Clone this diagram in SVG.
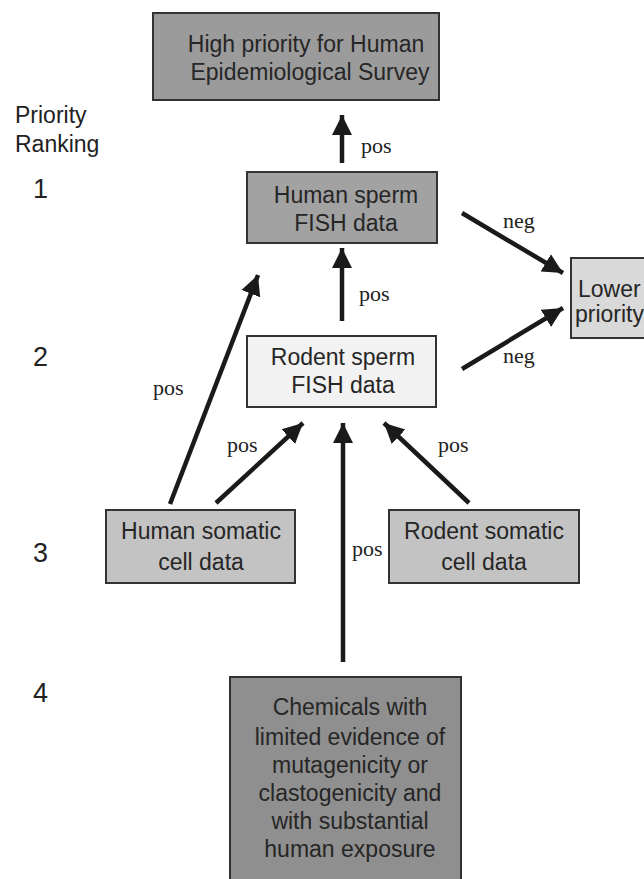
<svg xmlns="http://www.w3.org/2000/svg" width="644" height="879" viewBox="0 0 644 879">
<style>
.box{stroke:#333;stroke-width:2}
.t{font-family:"Liberation Sans",Arial,sans-serif;font-size:23px;fill:#262626;text-anchor:middle}
.rank{font-family:"Liberation Sans",Arial,sans-serif;font-size:27px;fill:#222}
.rl{font-family:"Liberation Sans",Arial,sans-serif;font-size:23px;fill:#222}
.lbl{font-family:"Liberation Serif","Times New Roman",serif;font-size:22px;fill:#222}
.c{stroke:#1a1a1a;stroke-width:4.5;fill:none;marker-end:url(#ah)}
</style>
<defs>
<marker id="ah" markerUnits="userSpaceOnUse" markerWidth="22" markerHeight="22" refX="20" refY="11" orient="auto">
<path d="M0,1 L20,11 L0,21 Z" fill="#1a1a1a"/>
</marker>
</defs>
<rect width="644" height="879" fill="#fff"/>
<g id="ranking">
<text class="rl" x="15" y="123">Priority</text>
<text class="rl" x="15" y="152">Ranking</text>
<text class="rank" x="33" y="198">1</text>
<text class="rank" x="33" y="366">2</text>
<text class="rank" x="33" y="562">3</text>
<text class="rank" x="33" y="702">4</text>
</g>
<g id="connectors">
<line class="c" x1="342" y1="163" x2="342" y2="115"/>
<line class="c" x1="342" y1="321" x2="342" y2="248"/>
<line class="c" x1="462" y1="213" x2="563" y2="273"/>
<line class="c" x1="462" y1="369" x2="563" y2="308"/>
<line class="c" x1="170" y1="504" x2="258" y2="275"/>
<line class="c" x1="216" y1="503" x2="303" y2="423"/>
<line class="c" x1="469" y1="503" x2="384" y2="423"/>
<line class="c" x1="343" y1="662" x2="343" y2="423"/>
<text class="lbl" x="361" y="153">pos</text>
<text class="lbl" x="359" y="301">pos</text>
<text class="lbl" x="503" y="228">neg</text>
<text class="lbl" x="503" y="363">neg</text>
<text class="lbl" x="153" y="395">pos</text>
<text class="lbl" x="227" y="452">pos</text>
<text class="lbl" x="438" y="452">pos</text>
<text class="lbl" x="352" y="556">pos</text>
</g>
<g id="top">
<rect class="box" x="153" y="13" width="286" height="87" fill="#9b9b9b"/>
<text class="t" x="306" y="52">High priority for Human</text>
<text class="t" x="310" y="80">Epidemiological Survey</text>
</g>
<g id="human-sperm">
<rect class="box" x="247" y="172" width="190" height="71" fill="#a2a2a2"/>
<text class="t" x="346" y="203">Human sperm</text>
<text class="t" x="346" y="231">FISH data</text>
</g>
<g id="rodent-sperm">
<rect class="box" x="247" y="336" width="189" height="71" fill="#f2f2f2"/>
<text class="t" x="343" y="365">Rodent sperm</text>
<text class="t" x="343" y="393">FISH data</text>
</g>
<g id="lower">
<rect class="box" x="571" y="258" width="80" height="80" fill="#d9d9d9"/>
<text class="t" x="578" y="297" style="text-anchor:start">Lower</text>
<text class="t" x="575" y="322" style="text-anchor:start">priority</text>
</g>
<g id="human-somatic">
<rect class="box" x="106" y="510" width="189" height="73" fill="#c3c3c3"/>
<text class="t" x="201" y="539">Human somatic</text>
<text class="t" x="201" y="570">cell data</text>
</g>
<g id="rodent-somatic">
<rect class="box" x="389" y="510" width="190" height="73" fill="#c3c3c3"/>
<text class="t" x="484" y="539">Rodent somatic</text>
<text class="t" x="484" y="570">cell data</text>
</g>
<g id="chemicals">
<rect class="box" x="230" y="677" width="231" height="210" fill="#8f8f8f"/>
<text class="t" x="350" y="715">Chemicals with</text>
<text class="t" x="350" y="745">limited evidence of</text>
<text class="t" x="350" y="773">mutagenicity or</text>
<text class="t" x="350" y="801">clastogenicity and</text>
<text class="t" x="350" y="829">with substantial</text>
<text class="t" x="350" y="857">human exposure</text>
</g>
</svg>
